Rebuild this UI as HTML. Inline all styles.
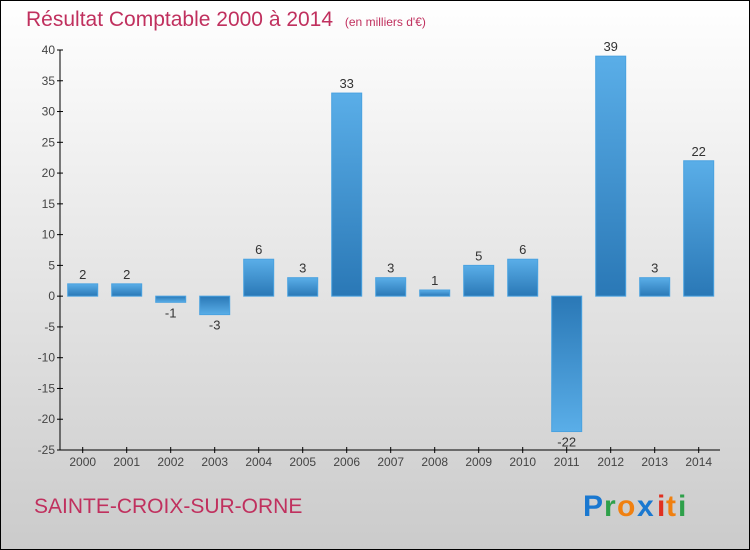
<!DOCTYPE html>
<html><head><meta charset="utf-8"><style>
body{margin:0}
svg{display:block;font-family:"Liberation Sans",sans-serif}
</style></head><body>
<svg width="750" height="550">
<defs>
<linearGradient id="bg" x1="0" y1="0" x2="0" y2="1"><stop offset="0" stop-color="#ffffff"/><stop offset="1" stop-color="#cbcbcb"/></linearGradient>
<linearGradient id="pos" x1="0" y1="0" x2="0" y2="1"><stop offset="0" stop-color="#5aaee8"/><stop offset="1" stop-color="#2a78b6"/></linearGradient>
<linearGradient id="neg" x1="0" y1="0" x2="0" y2="1"><stop offset="0" stop-color="#2a78b6"/><stop offset="1" stop-color="#5aaee8"/></linearGradient>
</defs>
<rect x="0.5" y="0.5" width="749" height="549" fill="url(#bg)" stroke="#000"/>
<text x="26" y="26" font-size="21" fill="#c0305e">Résultat Comptable 2000 à 2014 <tspan font-size="12" dx="6">(en milliers d'€)</tspan></text>
<text x="34" y="513" font-size="21" fill="#c0305e">SAINTE-CROIX-SUR-ORNE</text>
<g font-size="30" font-weight="bold">
<text x="583" y="516" fill="#1a78d0">P</text><text x="604" y="516" fill="#2ea04a">r</text><text x="617" y="516" fill="#f08010">o</text><text x="637" y="516" fill="#1a78d0">x</text><text x="657" y="516" fill="#e03020">i</text><text x="666" y="516" fill="#f08010">t</text><text x="678" y="516" fill="#2ea04a">i</text>
</g>
<g id="axes"></g>
<g id="bars"></g>
</svg>
<script>
const years=["2000","2001","2002","2003","2004","2005","2006","2007","2008","2009","2010","2011","2012","2013","2014"];
const values=[2,2,-1,-3,6,3,33,3,1,5,6,-22,39,3,22];
const yTicks=[40,35,30,25,20,15,10,5,0,-5,-10,-15,-20,-25];
const NS="http://www.w3.org/2000/svg";
const yMin=-25,yMax=40,plotTop=50,plotBot=450;
function yAt(v){return plotBot-(v-yMin)/(yMax-yMin)*(plotBot-plotTop);}
function xAt(i){return 82.7+i*44;}
function mk(t,a,p){const e=document.createElementNS(NS,t);for(const k in a)e.setAttribute(k,a[k]);p.appendChild(e);return e;}
const ax=document.getElementById('axes'),bg=document.getElementById('bars');
const yl=mk('line',{x1:60,y1:plotTop,x2:60,y2:plotBot,stroke:'#000'},ax);


const xl=mk('line',{x1:60,y1:plotBot,x2:720,y2:plotBot,stroke:'#000'},ax);


yTicks.forEach(v=>{
 mk('line',{x1:57,y1:yAt(v),x2:63,y2:yAt(v),stroke:'#000'},ax);
 const t=mk('text',{x:55,y:yAt(v)+4,'text-anchor':'end','font-size':12,fill:'#444'},ax);
 t.textContent=v;
 
 
});
years.forEach((yr,i)=>{
 mk('line',{x1:xAt(i),y1:plotBot-3,x2:xAt(i),y2:plotBot+3,stroke:'#000'},ax);
 const t=mk('text',{x:xAt(i),y:plotBot+16,'text-anchor':'middle','font-size':12,fill:'#444'},ax);
 t.textContent=yr;
 
 
 const v=values[i],y0=yAt(0),yv=yAt(v);
 const r=mk('rect',{x:xAt(i)-15,y:Math.min(y0,yv),width:30,height:Math.max(1,Math.abs(yv-y0)),fill:v>=0?'url(#pos)':'url(#neg)',stroke:'#4aa2e0','stroke-width':1},bg);
 
 
 const l=mk('text',{x:xAt(i),y:v>=0?yv-5:yv+15,'text-anchor':'middle','font-size':13,fill:'#333'},bg);
 l.textContent=v;
 
 
});
</script>
</body></html>
